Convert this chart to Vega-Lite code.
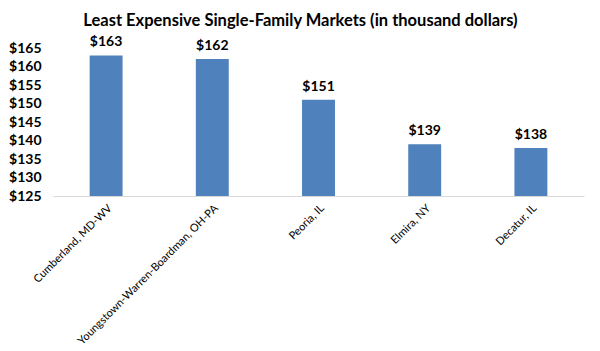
{
  "$schema": "https://vega.github.io/schema/vega-lite/v6.json",
  "autosize": "none",
  "width": 531,
  "height": 148,
  "padding": {"left": 53, "top": 48, "right": 16, "bottom": 155},
  "background": "white",
  "title": {
    "text": "Least Expensive Single-Family Markets (in thousand dollars)",
    "font": "Lato",
    "fontSize": 16.5,
    "fontWeight": "bold",
    "color": "#000000",
    "anchor": "middle",
    "frame": "group",
    "dx": -18,
    "offset": 6
  },
  "data": {
    "values": [
      {"market": "Cumberland, MD-WV", "price": 163},
      {"market": "Youngstown-Warren-Boardman, OH-PA", "price": 162},
      {"market": "Peoria, IL", "price": 151},
      {"market": "Elmira, NY", "price": 139},
      {"market": "Decatur, IL", "price": 138}
    ]
  },
  "encoding": {
    "x": {
      "field": "market",
      "type": "nominal",
      "sort": null,
      "scale": {"paddingInner": 0.69, "paddingOuter": 0.345},
      "axis": {
        "title": null,
        "labelAngle": -45,
        "labelFont": "Lato",
        "labelFontSize": 11,
        "labelColor": "#000000",
        "labelLimit": 300,
        "labelPadding": 6,
        "ticks": false,
        "domainColor": "#d9d9d9",
        "grid": false
      }
    },
    "y": {
      "field": "price",
      "type": "quantitative",
      "scale": {"domain": [125, 165], "zero": false, "nice": false},
      "axis": {
        "title": null,
        "values": [125, 130, 135, 140, 145, 150, 155, 160, 165],
        "format": "$d",
        "labelFont": "Lato",
        "labelFontSize": 14,
        "labelFontWeight": "bold",
        "labelColor": "#000000",
        "labelPadding": 12,
        "ticks": false,
        "domain": false,
        "grid": false
      }
    }
  },
  "layer": [
    {"mark": {"type": "bar", "color": "#4F81BD"}, "encoding": {"y2": {"datum": 125}}},
    {
      "mark": {"type": "text", "dy": -13, "font": "Lato", "fontSize": 14, "fontWeight": "bold", "color": "#000000"},
      "encoding": {"text": {"field": "price", "type": "quantitative", "format": "$d"}}
    }
  ],
  "config": {"view": {"stroke": null}}
}
